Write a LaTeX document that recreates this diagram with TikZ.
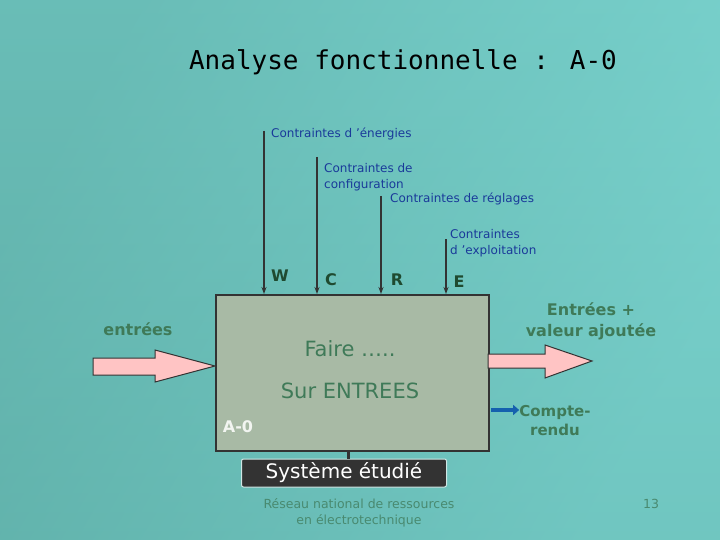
\documentclass[tikz,border=0pt]{standalone}
\usepackage{fontspec}
\setmainfont{DejaVu Sans}
\newfontfamily\monof{DejaVu Sans Mono}
\usetikzlibrary{arrows.meta,shadings}
\definecolor{bgl}{HTML}{82DEDA}
\definecolor{bgd}{HTML}{5FAFA8}
\definecolor{boxf}{HTML}{A8BAA5}
\definecolor{grn}{HTML}{3F7A58}
\definecolor{dgrn}{HTML}{1F4A30}
\definecolor{blu}{HTML}{1A3A9A}
\definecolor{pinkf}{HTML}{FFC4C4}
\definecolor{edge}{HTML}{333333}
\tikzset{
 ctl/.style={draw=edge,line width=1.6pt,-{Stealth[length=7pt,width=5pt,open]}},
 lbl/.style={text=blu,font=\fontsize{12}{16}\selectfont,align=left,anchor=west,inner sep=0pt},
 letter/.style={text=dgrn,font=\bfseries\fontsize{16}{18}\selectfont,inner sep=0pt},
 gtext/.style={text=grn,font=\bfseries\fontsize{16}{21}\selectfont,inner sep=0pt},
 fat/.style={draw=edge,line width=1pt,fill=pinkf}
}
\begin{document}
\begin{tikzpicture}[x=1pt,y=-1pt]
\useasboundingbox (0,0) rectangle (720,540);
\shade[left color=bgd,right color=bgl,shading angle=60] (0,0) rectangle (720,540);
\shade[top color=bgl!60!bgd,bottom color=bgd,opacity=0.5] (0,0) rectangle (720,540);
\node[font=\monof\fontsize{26}{30}\selectfont,text=black] (title) at (403,62) {Analyse fonctionnelle : A-0};
\node[draw=edge,line width=2pt,fill=boxf,minimum width=273pt,minimum height=156pt,anchor=north west,inner sep=0pt] (box) at (215,294) {};
\node[text=grn,font=\fontsize{21}{24}\selectfont,inner sep=0pt] (faire) at (350,349) {Faire …..};
\node[text=grn,font=\fontsize{21}{24}\selectfont,inner sep=0pt] (sur) at (350,391) {Sur ENTREES};
\node[text=white!85!boxf,font=\bfseries\fontsize{16}{18}\selectfont,inner sep=0pt] (a0) at (238,427) {A-0};
% controls
\coordinate (w0) at (264,131); \coordinate (w1) at (264,294);
\coordinate (c0) at (317,157); \coordinate (c1) at (317,294);
\coordinate (r0) at (381,196); \coordinate (r1) at (381,294);
\coordinate (e0) at (446,239); \coordinate (e1) at (446,294);
\draw[ctl] (w0) -- (w1); \draw[ctl] (c0) -- (c1);
\draw[ctl] (r0) -- (r1); \draw[ctl] (e0) -- (e1);
\node[lbl] (le) at (271,134) {Contraintes d 'énergies};
\node[lbl] (lc) at (324,177) {Contraintes de\\configuration};
\node[lbl] (lr) at (390,199) {Contraintes de réglages};
\node[lbl] (lx) at (450,243) {Contraintes\\d 'exploitation};
\node[letter] (W) at (280,276) {W};
\node[letter] (C) at (331,280) {C};
\node[letter] (R) at (397,280) {R};
\node[letter] (E) at (459,282) {E};
% input arrow
\draw[fat] (93,358) -- (155,358) -- (155,350) -- (215,366) -- (155,382) -- (155,375) -- (93,375) -- cycle;
\node[gtext] (ent) at (138,329) {entrées};
% output arrow
\draw[fat] (488,354) -- (545,354) -- (545,345) -- (592,361) -- (545,378) -- (545,368) -- (488,368) -- cycle;
\node[gtext,align=center] (sortie) at (591,321) {Entrées +\\valeur ajoutée};
% compte rendu
\coordinate (cr0) at (491,410);
\node[gtext,align=center,font=\bfseries\fontsize{15}{19}\selectfont] (cr) at (555,421) {Compte-\\rendu};
\draw[draw=blu!80!cyan,line width=4pt,-{Triangle[length=6pt,width=10pt]}] (cr0) -- (cr.west|-cr0);
% mechanism
\node[draw=white!70!bgd,line width=1pt,fill=black!80,rounded corners=2pt,minimum width=205pt,minimum height=28pt,text=white,font=\fontsize{20}{22}\selectfont,inner sep=0pt] (sys) at (344,473) {Système étudié};
\draw[edge,line width=3pt] (348,450) -- (sys.north-|348,0);
\node[text=grn!70!bgd,font=\fontsize{12.5}{16}\selectfont,align=center] (foot) at (359,513) {Réseau national de ressources\\en électrotechnique};
\node[text=grn!70!bgd,font=\fontsize{12.5}{14}\selectfont] (num) at (651,504) {13};
\end{tikzpicture}
\end{document}
